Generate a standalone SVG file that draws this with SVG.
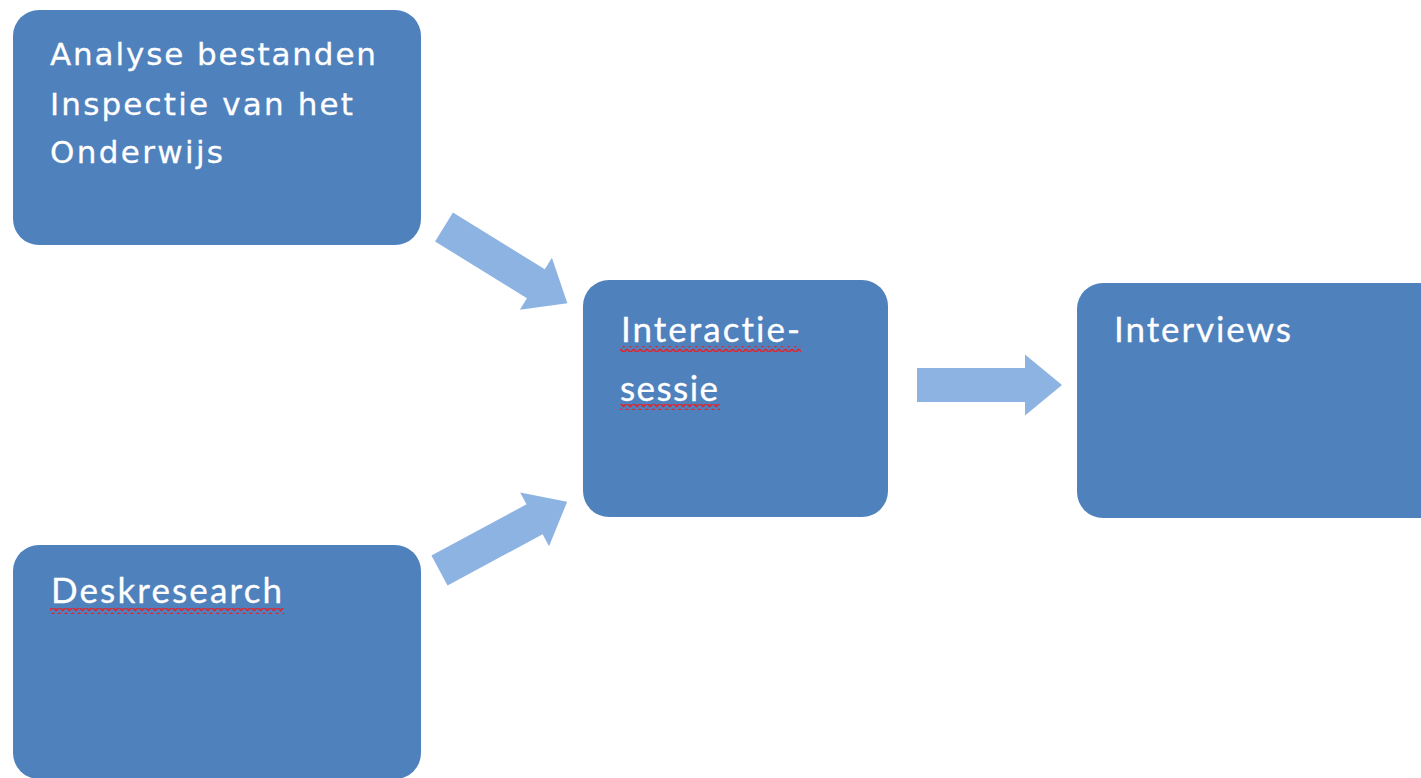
<svg xmlns="http://www.w3.org/2000/svg" width="1421" height="778" viewBox="0 0 1421 778">
  <style>
    .box { fill: #4F81BD; }
    .arrow { fill: #8DB3E2; }
    .verd { font-family: "DejaVu Sans", Verdana, sans-serif; font-size: 31px; fill: #FFFFFF; stroke: #FFFFFF; stroke-width: 0.3px; }
    .cal { font-family: Lato, "Open Sans", sans-serif; font-size: 35px; fill: #FFFFFF; stroke: #FFFFFF; stroke-width: 0.3px; font-variant-ligatures: none; font-feature-settings: "liga" 0, "clig" 0; }
    .squig { fill: url(#zig); }
  </style>
  <defs>
    <pattern id="zig" x="0" y="0" width="6.6" height="6" patternUnits="userSpaceOnUse">
      <path d="M0,1 L3.3,4.5 L6.6,1" fill="none" stroke="#E0242B" stroke-width="1.8"/>
    </pattern>
    <polygon id="arr" points="0,-17 108,-17 108,-30.5 145,0 108,30.5 108,17 0,17"/>
  </defs>

  <g id="connectors">
    <use href="#arr" class="arrow" transform="translate(444,227) rotate(31.7)"/>
    <use href="#arr" class="arrow" transform="translate(439.5,570.5) rotate(-28.3)"/>
    <use href="#arr" class="arrow" transform="translate(917,385)"/>
  </g>

  <g id="node-analyse">
    <rect class="box" x="13" y="10" width="408" height="235" rx="26" ry="26"/>
    <text class="verd" x="50" y="65" textLength="326" lengthAdjust="spacing">Analyse bestanden</text>
    <text class="verd" x="50" y="115" textLength="303" lengthAdjust="spacing">Inspectie van het</text>
    <text class="verd" x="50" y="163" textLength="173" lengthAdjust="spacing">Onderwijs</text>
  </g>

  <g id="node-deskresearch">
    <rect class="box" x="13" y="545" width="408" height="234" rx="26" ry="26"/>
    <text class="cal" x="51" y="603" textLength="231" lengthAdjust="spacing">Deskresearch</text>
    <rect class="squig" x="50" y="608" width="234" height="6"/>
  </g>

  <g id="node-interactie">
    <rect class="box" x="583" y="280" width="305" height="237" rx="26" ry="26"/>
    <text class="cal" x="621" y="342" textLength="179" lengthAdjust="spacing">Interactie-</text>
    <text class="cal" x="620" y="401" textLength="98" lengthAdjust="spacing">sessie</text>
    <rect class="squig" x="620" y="346" width="181" height="6"/>
    <rect class="squig" x="620" y="404" width="100" height="6"/>
  </g>

  <g id="node-interviews">
    <rect class="box" x="1077" y="283" width="370" height="235" rx="26" ry="26"/>
    <text class="cal" x="1114" y="342" textLength="177" lengthAdjust="spacing">Interviews</text>
  </g>
</svg>
